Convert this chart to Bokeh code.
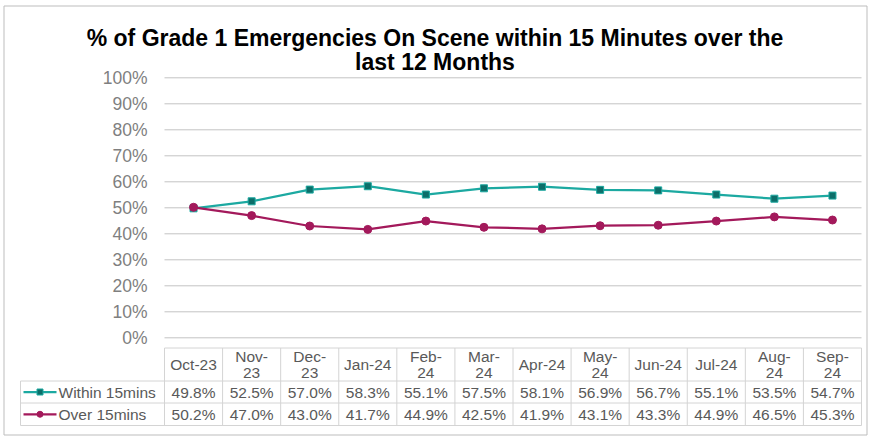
from bokeh.plotting import figure
from bokeh.models import Range1d, ColumnDataSource
from bokeh.embed import file_html
from bokeh.resources import INLINE
from bokeh.core.properties import value

# ---------------- data ----------------
months = ["Oct-23", "Nov-23", "Dec-23", "Jan-24", "Feb-24", "Mar-24",
          "Apr-24", "May-24", "Jun-24", "Jul-24", "Aug-24", "Sep-24"]
header_labels = ["Oct-23", "Nov-\n23", "Dec-\n23", "Jan-24", "Feb-\n24", "Mar-\n24",
                 "Apr-24", "May-\n24", "Jun-24", "Jul-24", "Aug-\n24", "Sep-\n24"]
within_15 = [49.8, 52.5, 57.0, 58.3, 55.1, 57.5, 58.1, 56.9, 56.7, 55.1, 53.5, 54.7]
over_15 = [50.2, 47.0, 43.0, 41.7, 44.9, 42.5, 41.9, 43.1, 43.3, 44.9, 46.5, 45.3]
series_names = ["Within 15mins", "Over 15mins"]
y_ticks = [0, 10, 20, 30, 40, 50, 60, 70, 80, 90, 100]
y_tick_labels = [f"{t}%" for t in y_ticks]
title_lines = ["% of Grade 1 Emergencies On Scene within 15 Minutes over the",
               "last 12 Months"]

# ---------------- style ----------------
TEAL = "#1ca9a1"
TEAL_DARK = "#0c6e69"
RED = "#a3195b"
GRID = "#c4c4c4"
TABLE_LINE = "#d4d4d4"
BORDER = "#bdbdbd"
TXT = "#595959"
TICK = "#7f7f7f"
FONT = "Liberation Sans"

W, H = 870, 437
OX, OY = 0, 0          # page position of the figure
N = len(months)
PLOT_L, PLOT_R = 164.0, 861.0   # page x of plot area
Y0, Y100 = 337.3, 77.3          # page y of 0% and 100%
U = (PLOT_R - PLOT_L) / N
V = (Y0 - Y100) / 100.0


def px(page_x):
    return (page_x - PLOT_L) / U


def py(page_y):
    return (Y0 - page_y) / V


p = figure(width=W, height=H,
           x_range=Range1d(px(OX), px(OX + W)),
           y_range=Range1d(py(OY + H), py(OY)),
           output_backend="svg", toolbar_location=None,
           x_axis_location=None, y_axis_location=None, min_border=0,
           outline_line_color=None)
p.grid.visible = False

# outer chart border
p.quad(left=[px(3.5)], right=[px(866.5)], top=[py(5.5)], bottom=[py(434.5)],
       fill_color=None, line_color=BORDER, line_width=1)

xs = [i + 0.5 for i in range(N)]

# gridlines and y tick labels
p.segment(x0=[0] * len(y_ticks), y0=y_ticks, x1=[N] * len(y_ticks), y1=y_ticks,
          line_color=GRID, line_width=1)
p.text(x=[px(147)] * len(y_ticks), y=y_ticks, text=y_tick_labels,
       text_align="right", text_baseline="middle", text_font=value(FONT),
       text_font_size="17.5px", text_color=TICK)

# series
src = ColumnDataSource(dict(x=xs, month=months, within=within_15, over=over_15))
p.line("x", "within", source=src, line_color=TEAL, line_width=2.25)
p.scatter("x", "within", source=src, marker="square", size=7,
          fill_color=TEAL_DARK, line_color=TEAL, line_width=1)
p.line("x", "over", source=src, line_color=RED, line_width=2.25)
p.scatter("x", "over", source=src, marker="circle", size=8,
          fill_color=RED, line_color=RED, line_width=1)

# title
p.text(x=[px(434.5)] * 2, y=[py(37.3), py(61.7)], text=title_lines,
       text_align="center", text_baseline="alphabetic", text_font=value(FONT),
       text_font_size="23px", text_font_style="bold", text_color="#000000")

# ---------------- data table ----------------
LEG_L = px(20)
y_head_top, y_head_bot, y_r1_bot, y_r2_bot = py(347.5), py(380.5), py(402.5), py(425)

h_y = [y_head_top, y_head_bot, y_r1_bot, y_r2_bot]
h_x0 = [0, LEG_L, LEG_L, LEG_L]
p.segment(x0=h_x0, y0=h_y, x1=[N] * 4, y1=h_y, line_color=TABLE_LINE, line_width=1)
v_x = list(range(N + 1)) + [LEG_L]
v_y0 = [y_head_top] * (N + 1) + [y_head_bot]
p.segment(x0=v_x, y0=v_y0, x1=v_x, y1=[y_r2_bot] * (N + 2),
          line_color=TABLE_LINE, line_width=1)

y_head = (y_head_top + y_head_bot) / 2
y_r1 = (y_head_bot + y_r1_bot) / 2
y_r2 = (y_r1_bot + y_r2_bot) / 2

tsrc = ColumnDataSource(dict(
    x=xs, head=header_labels,
    w=[f"{v:.1f}%" for v in within_15],
    o=[f"{v:.1f}%" for v in over_15],
))
common = dict(text_align="center", text_baseline="middle", text_font=value(FONT),
              text_font_size="15.5px", text_color=TXT)
p.text(x="x", y=y_head, text="head", source=tsrc, text_line_height=0.9, **common)
p.text(x="x", y=y_r1, text="w", source=tsrc, **common)
p.text(x="x", y=y_r2, text="o", source=tsrc, **common)

# legend keys in the table
lk0, lk1 = px(23), px(56)
lkm = (lk0 + lk1) / 2
lt = px(58)
p.segment(x0=[lk0, lk0], y0=[y_r1, y_r2], x1=[lk1, lk1], y1=[y_r1, y_r2],
          line_color=[TEAL, RED], line_width=2.25)
p.scatter(x=[lkm], y=[y_r1], marker="square", size=6, fill_color=TEAL_DARK,
          line_color=TEAL, line_width=1)
p.scatter(x=[lkm], y=[y_r2], marker="circle", size=6, fill_color=RED,
          line_color=RED, line_width=1)
p.text(x=[lt, lt], y=[y_r1, y_r2], text=series_names, text_align="left",
       text_baseline="middle", text_font=value(FONT), text_font_size="15.5px",
       text_color=TXT)

open("out.html", "w").write(file_html(p, INLINE))
